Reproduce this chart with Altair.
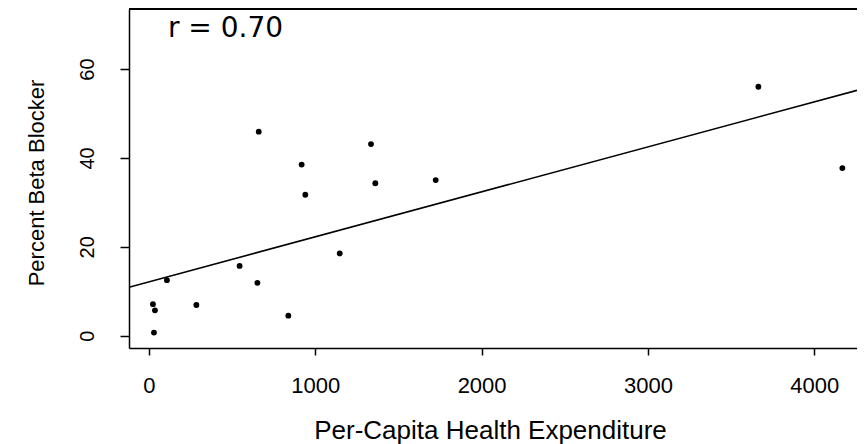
import altair as alt
import pandas as pd

# Data
expenditure = [30, 24, 36, 108, 285, 545, 652, 660, 838, 918, 940, 1147, 1335, 1361, 1724, 3664, 4169]
beta_blocker = [0.7, 7.1, 5.7, 12.5, 6.9, 15.7, 11.9, 45.9, 4.5, 38.5, 31.7, 18.5, 43.1, 34.3, 35.0, 56.0, 37.7]

fit_x = [-120, 4257]
fit_y = [10.9, 55.2]

x_ticks = [0, 1000, 2000, 3000, 4000]
y_ticks = [0, 20, 40, 60]

annotation_text = ["r = 0.70"]
annotation_x = [114]
annotation_y = [67.2]

x_title = "Per-Capita Health Expenditure"
y_title = "Percent Beta Blocker"

W, H = 728, 339
FONT = "Liberation Sans, Arial, sans-serif"

pts = pd.DataFrame({"x": expenditure, "y": beta_blocker})
fit = pd.DataFrame({"x": fit_x, "y": fit_y})
ann = pd.DataFrame({"x": annotation_x, "y": annotation_y, "t": annotation_text})

xs = alt.Scale(domain=[-120, 4257], nice=False, zero=False)
ys = alt.Scale(domain=[-2.77, 73.5], nice=False, zero=False)

xaxis = alt.Axis(
    values=x_ticks, format="d", title=x_title, grid=False,
    domainColor="black", domainWidth=1.5,
    tickColor="black", tickWidth=1.5, tickSize=7,
    labelFont=FONT, labelFontSize=22, labelColor="black",
    labelPadding=20, labelFlush=False,
    titleFont=FONT, titleFontSize=26, titleFontWeight="normal", titleColor="black",
    titleBaseline="alphabetic", titleAlign="center", titleX=361, titleY=90,
)
yaxis = alt.Axis(
    values=y_ticks, title=y_title, grid=False,
    domainColor="black", domainWidth=1.5,
    tickColor="black", tickWidth=1.5, tickSize=9,
    labelFont=FONT, labelFontSize=20, labelColor="black",
    labelAngle=270, labelAlign="center", labelBaseline="alphabetic",
    labelPadding=27, labelFlush=False,
    titleFont=FONT, titleFontSize=22, titleFontWeight="normal", titleColor="black",
    titleAngle=270, titleBaseline="alphabetic", titleAlign="center",
    titleX=-86, titleY=173.5,
)

X = alt.X("x:Q", scale=xs, axis=xaxis)
Y = alt.Y("y:Q", scale=ys, axis=yaxis)

points = alt.Chart(pts).mark_circle(size=34, color="black", opacity=1).encode(x=X, y=Y)
line = alt.Chart(fit).mark_line(color="black", strokeWidth=1.6, clip=True).encode(x=X, y=Y)
label = alt.Chart(ann).mark_text(
    font="DejaVu Sans, sans-serif", fontSize=28, align="left", baseline="alphabetic", color="black"
).encode(x=X, y=Y, text="t:N")
top = alt.Chart(pts).mark_rule(color="black", strokeWidth=1.5).encode(
    x=alt.value(0), x2=alt.value(W), y=alt.value(0)
)

chart = alt.layer(points, line, label, top).properties(
    width=W, height=H,
    autosize=alt.AutoSizeParams(type="none"),
    padding={"left": 121, "top": 1, "right": 0, "bottom": 96},
    background="white",
).configure_view(stroke=None)

chart.save("out.html", embed_options={"renderer": "svg", "actions": False})
